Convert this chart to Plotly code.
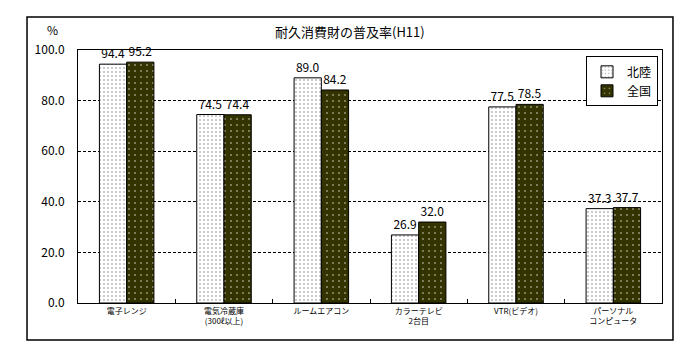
import plotly.graph_objects as go

categories = ["電子レンジ", "電気冷蔵庫<br>(300ℓ以上)", "ルームエアコン", "カラーテレビ<br>2台目", "VTR(ビデオ)", "パーソナル<br>コンピュータ"]
hokuriku = [94.4, 74.5, 89.0, 26.9, 77.5, 37.3]
zenkoku = [95.2, 74.4, 84.2, 32.0, 78.5, 37.7]
y_ticks = [0, 20, 40, 60, 80, 100]

FONT = "MS PGothic, Noto Sans CJK JP, sans-serif"

fig = go.Figure()
fig.add_trace(go.Bar(
    name="北陸", x=categories, y=hokuriku,
    marker=dict(color="white", line=dict(color="black", width=1),
                pattern=dict(shape=".", fgcolor="black", bgcolor="white", size=4, solidity=0.12)),
    text=[f"{v:.1f}" for v in hokuriku], textposition="outside",
    textfont=dict(size=12, color="black"), cliponaxis=False,
))
fig.add_trace(go.Bar(
    name="全国", x=categories, y=zenkoku,
    marker=dict(color="#333300", line=dict(color="black", width=1),
                pattern=dict(shape=".", fgcolor="white", bgcolor="#333300", size=6, solidity=0.08)),
    text=[f"{v:.1f}" for v in zenkoku], textposition="outside",
    textfont=dict(size=12, color="black"), cliponaxis=False,
))

# page body has an 8px margin: figure is 692x352 so it fills the 700x360 window
fig.update_layout(
    width=692, height=352,
    margin=dict(l=70, r=38, t=42, b=57),
    paper_bgcolor="white", plot_bgcolor="white",
    font=dict(family=FONT, color="black", size=12),
    barmode="group", bargap=0.44, bargroupgap=0,
    showlegend=True,
    legend=dict(x=(658 - 78) / 584, y=0.975, xanchor="right", yanchor="top",
                bordercolor="black", borderwidth=1, bgcolor="white",
                font=dict(size=12), itemwidth=30, tracegroupgap=0),
    xaxis=dict(showline=True, linecolor="black", linewidth=1, mirror=True,
               ticks="inside", tickson="boundaries", ticklen=4, tickcolor="black",
               tickfont=dict(size=8), showgrid=False, automargin=False),
    yaxis=dict(range=[0, 100], tickvals=y_ticks, tickformat=".1f",
               showline=True, linecolor="black", linewidth=1, mirror=True,
               showgrid=True, gridcolor="black", griddash="3px,2px", gridwidth=1,
               ticks="", ticklabelstandoff=10, tickfont=dict(size=12),
               zeroline=False, automargin=False),
    shapes=[dict(type="rect", xref="paper", yref="paper",
                 x0=-0.0873, x1=1.0188, y0=-0.146, y1=1.1304,
                 line=dict(color="black", width=1.5), layer="below")],
    annotations=[
        dict(text="耐久消費財の普及率(H11)", xref="paper", yref="paper",
             x=(350 - 78) / 584, y=1.075, xanchor="center", yanchor="middle",
             showarrow=False, font=dict(size=13)),
        dict(text="%", xref="paper", yref="paper",
             x=(52 - 78) / 584, y=1.08, xanchor="center", yanchor="middle",
             showarrow=False, font=dict(size=12)),
    ],
)

fig.write_html("out.html")
